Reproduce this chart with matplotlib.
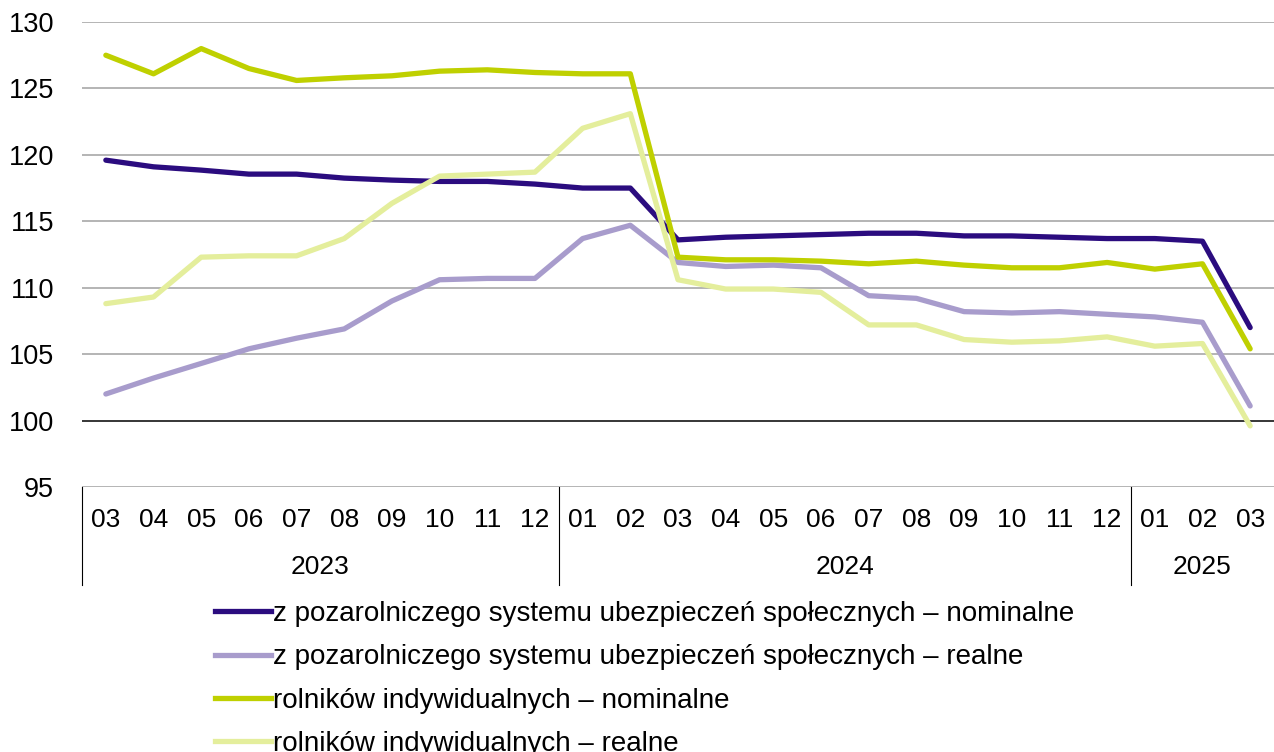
import matplotlib
matplotlib.use("Agg")
import matplotlib.pyplot as plt
import matplotlib.transforms as mtransforms
from matplotlib.lines import Line2D

plt.rcParams['font.family'] = ['Liberation Sans', 'DejaVu Sans']

months = ["03", "04", "05", "06", "07", "08", "09", "10", "11", "12",
          "01", "02", "03", "04", "05", "06", "07", "08", "09", "10", "11", "12",
          "01", "02", "03"]
years = ["2023", "2024", "2025"]
year_counts = [10, 12, 3]

nonagri_nominal = [119.6, 119.1, 118.85, 118.55, 118.55, 118.25, 118.1, 118.0, 118.0, 117.8,
                   117.5, 117.5, 113.6, 113.8, 113.9, 114.0, 114.1, 114.1, 113.9, 113.9,
                   113.8, 113.7, 113.7, 113.5, 107.0]
nonagri_real = [102.0, 103.2, 104.3, 105.4, 106.2, 106.9, 109.0, 110.6, 110.7, 110.7,
                113.7, 114.7, 111.9, 111.6, 111.7, 111.5, 109.4, 109.2, 108.2, 108.1,
                108.2, 108.0, 107.8, 107.4, 101.1]
farmers_nominal = [127.5, 126.1, 128.0, 126.5, 125.6, 125.8, 125.95, 126.3, 126.4, 126.2,
                   126.1, 126.1, 112.3, 112.1, 112.1, 112.0, 111.8, 112.0, 111.7, 111.5,
                   111.5, 111.9, 111.4, 111.8, 105.4]
farmers_real = [108.8, 109.3, 112.3, 112.4, 112.4, 113.7, 116.35, 118.4, 118.55, 118.7,
                122.0, 123.1, 110.6, 109.9, 109.9, 109.65, 107.2, 107.2, 106.1, 105.9,
                106.0, 106.3, 105.6, 105.8, 99.6]

labels = ["z pozarolniczego systemu ubezpieczeń społecznych – nominalne",
          "z pozarolniczego systemu ubezpieczeń społecznych – realne",
          "rolników indywidualnych – nominalne",
          "rolników indywidualnych – realne"]
colors = ["#2b0c7f", "#a89ccc", "#bfd000", "#e4ee9c"]

fig = plt.figure(figsize=(12.74, 7.52), dpi=100)
ax = fig.add_axes([82/1274, 1 - 487/752, 1 - 82/1274, (487 - 22)/752])

x = list(range(len(months)))
series = [nonagri_nominal, nonagri_real, farmers_nominal, farmers_real]
for s, c in zip(series, colors):
    ax.plot(x, s, color=c, lw=3.8, solid_capstyle='round', solid_joinstyle='round', zorder=3)

ax.set_xlim(-0.5, len(months) - 0.5)
ax.set_ylim(95, 130)
ax.set_yticks(range(95, 131, 5))
for v in range(95, 131, 5):
    ax.axhline(v, color="#000000" if v == 100 else "#a0a0a0", lw=1.1, zorder=1)
for sp in ax.spines.values():
    sp.set_visible(False)
ax.tick_params(axis='y', length=0, pad=20, labelsize=19.5)
ax.set_xticks([])

trans = mtransforms.blended_transform_factory(ax.transData, ax.transAxes)
ax_h = (487 - 22)
for i, m in enumerate(months):
    ax.text(i, -(520 - 487) / ax_h, m, transform=trans, ha='center', va='center', fontsize=19)

start = 0
bounds = [0]
for yname, n in zip(years, year_counts):
    mid = start + (n - 1) / 2
    ax.text(mid, -(567 - 487) / ax_h, yname, transform=trans, ha='center', va='center', fontsize=19)
    start += n
    bounds.append(start)
for b in bounds[:-1]:
    ax.plot([b - 0.5, b - 0.5], [0, -(585 - 487) / ax_h], transform=trans,
            color="#000000", lw=0.8, clip_on=False)

handles = [Line2D([0], [0], color=c, lw=3.8) for c in colors]
fig.legend(handles, labels, loc='upper left', bbox_to_anchor=(204/1274, 1 - 590/752),
           frameon=False, fontsize=20, handlelength=2.0, handletextpad=0.1,
           labelspacing=0.62, borderaxespad=0)

fig.savefig("out.png", dpi=100)
